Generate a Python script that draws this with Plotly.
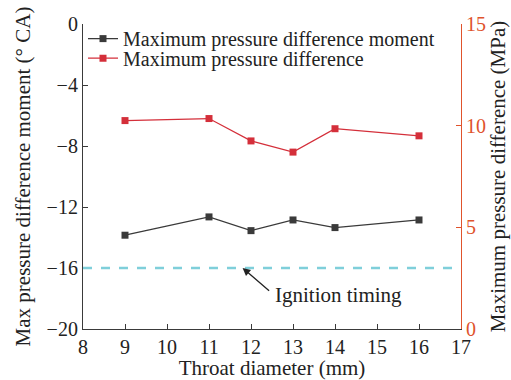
import plotly.graph_objects as go

# Throat diameter (mm)
throat_diameter = [9, 11, 12, 13, 14, 16]
# Crank angle of the maximum pressure difference (°CA)
max_diff_moment = [-13.85, -12.65, -13.55, -12.85, -13.35, -12.85]
# Maximum pressure difference (MPa)
max_diff = [10.25, 10.35, 9.25, 8.7, 9.85, 9.5]
# Ignition timing (°CA)
ignition_timing = -16

x_ticks = [8, 9, 10, 11, 12, 13, 14, 15, 16, 17]
left_ticks = [0, -4, -8, -12, -16, -20]
right_ticks = [0, 5, 10, 15]

FONT = "Liberation Serif, Times New Roman, serif"
TEXT = "#222222"
BLACK = "#3a3a3a"
RED = "#d42f3a"
AXIS_RED = "#e0532c"
CYAN = "#7fcfda"
TICK_SIZE = 20
LABEL_SIZE = 21
LEGEND_SIZE = 20

fig = go.Figure()

fig.add_trace(go.Scatter(
    x=throat_diameter, y=max_diff_moment,
    mode="lines+markers",
    name="Maximum pressure difference moment",
    legend="legend",
    line=dict(color=BLACK, width=1.3),
    marker=dict(symbol="square", size=7, color=BLACK),
))
fig.add_trace(go.Scatter(
    x=throat_diameter, y=max_diff,
    mode="lines+markers",
    name="Maximum pressure difference",
    yaxis="y2",
    legend="legend2",
    line=dict(color=RED, width=1.3),
    marker=dict(symbol="square", size=7, color=RED),
))

# ignition timing reference line
fig.add_shape(
    type="line", xref="paper", yref="y",
    x0=0, x1=1, y0=ignition_timing, y1=ignition_timing,
    line=dict(color=CYAN, width=2.5, dash="dash"),
)

# arrow pointing at the ignition timing line
fig.add_annotation(
    x=11.8, y=ignition_timing, xref="x", yref="y",
    text="", showarrow=True, arrowhead=2, arrowsize=1.2, arrowwidth=1.3,
    arrowcolor=TEXT, ax=28, ay=24,
)
fig.add_annotation(
    x=12.0, y=ignition_timing, xref="x", yref="y",
    text="Ignition timing", showarrow=False,
    xanchor="left", yanchor="middle", xshift=22, yshift=-27,
    font=dict(family=FONT, size=LABEL_SIZE, color=TEXT),
)

legend_style = dict(
    xanchor="left", yanchor="top",
    bgcolor="rgba(0,0,0,0)",
    font=dict(family=FONT, size=LEGEND_SIZE, color=TEXT),
    itemwidth=30,
)

fig.update_layout(
    width=511, height=380,
    margin=dict(l=83, r=50, t=24, b=51),
    paper_bgcolor="white", plot_bgcolor="white",
    font=dict(family=FONT, size=TICK_SIZE, color=TEXT),
    showlegend=True,
    legend=dict(x=0.0, y=1.016, **legend_style),
    legend2=dict(x=0.0, y=0.952, **legend_style),
    xaxis=dict(
        range=[8, 17], tickvals=x_ticks,
        showgrid=False, zeroline=False, automargin=False,
        showline=True, linecolor=BLACK, linewidth=1.2,
        ticks="inside", ticklen=5, tickcolor=BLACK,
        title=dict(text="Throat diameter (mm)", standoff=0,
                   font=dict(family=FONT, size=LABEL_SIZE)),
        tickfont=dict(family=FONT, size=TICK_SIZE),
    ),
    yaxis=dict(
        range=[-20, 0], tickvals=left_ticks,
        ticktext=["0", "\u22124", "\u22128", "\u221212", "\u221216", "\u221220"],
        showgrid=False, zeroline=False, automargin=False,
        showline=True, linecolor=BLACK, linewidth=1.2,
        ticks="inside", ticklen=5, tickcolor=BLACK,
        title=dict(text="Max pressure difference moment (\u00b0 CA)", standoff=10,
                   font=dict(family=FONT, size=LABEL_SIZE)),
        tickfont=dict(family=FONT, size=TICK_SIZE),
    ),
    yaxis2=dict(
        range=[0, 15], tickvals=right_ticks,
        overlaying="y", side="right",
        showgrid=False, zeroline=False, automargin=False,
        showline=True, linecolor=AXIS_RED, linewidth=1.2,
        ticks="inside", ticklen=5, tickcolor=AXIS_RED,
        tickfont=dict(family=FONT, size=TICK_SIZE, color=AXIS_RED),
        title=dict(text="Maximum pressure difference (MPa)", standoff=0,
                   font=dict(family=FONT, size=LABEL_SIZE, color=TEXT)),
    ),
)

fig.write_html("out.html")
